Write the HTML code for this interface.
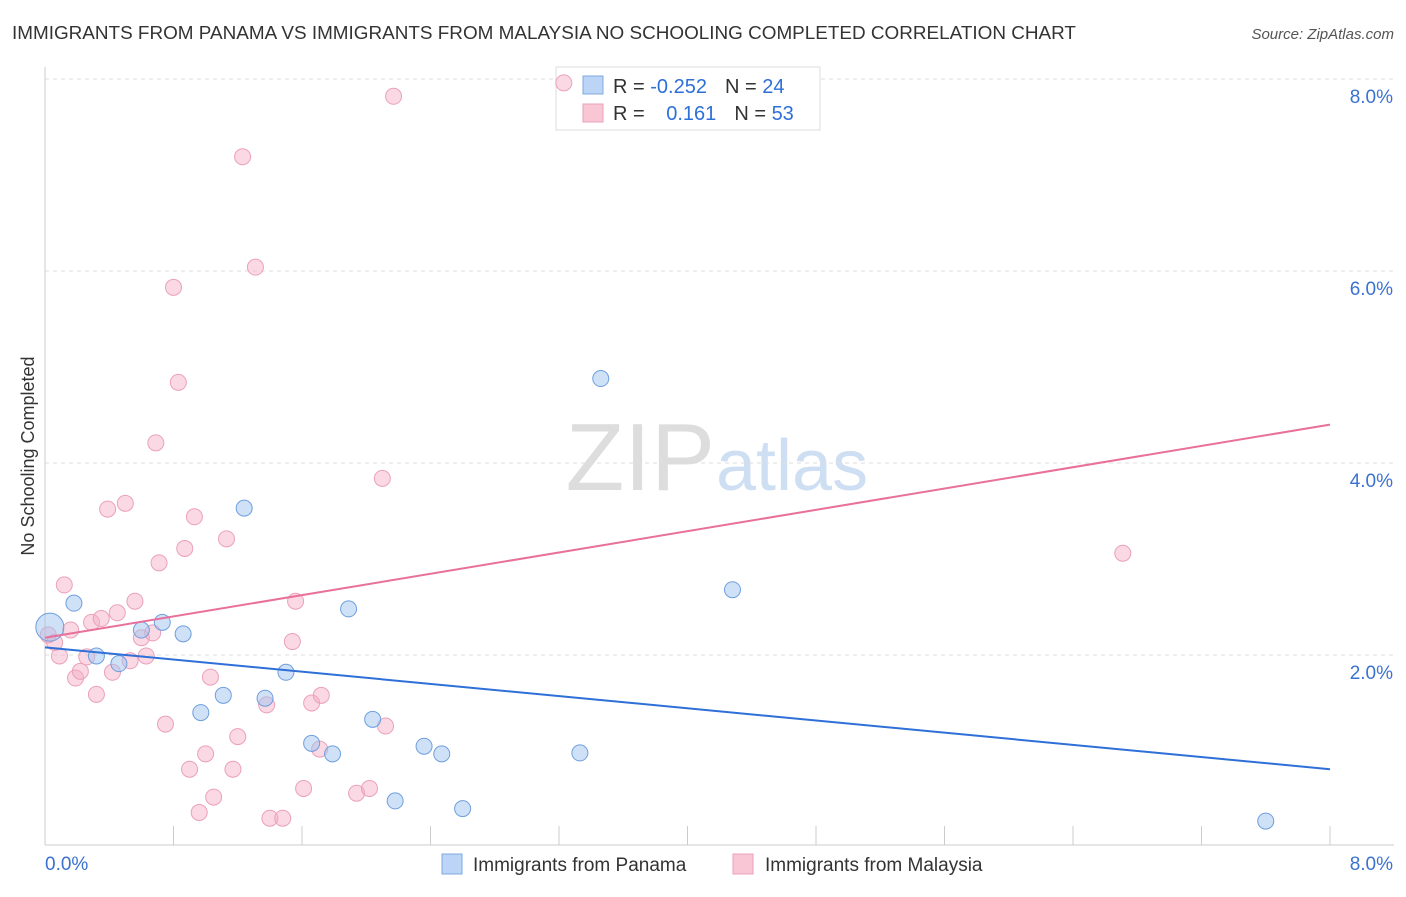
<!DOCTYPE html>
<html><head><meta charset="utf-8"><style>
body{margin:0;background:#fff;font-family:"Liberation Sans",sans-serif;}
svg text{font-family:"Liberation Sans",sans-serif;}
</style></head><body>
<svg width="1406" height="892" viewBox="0 0 1406 892" id="chart">
<text x="12" y="39" font-size="18.9" fill="#333">IMMIGRANTS FROM PANAMA VS IMMIGRANTS FROM MALAYSIA NO SCHOOLING COMPLETED CORRELATION CHART</text>
<text x="1394" y="39" font-size="15" fill="#555" font-style="italic" text-anchor="end">Source: ZipAtlas.com</text>
<text x="715" y="490" font-size="96" fill="#ddd" font-family="Liberation Serif" text-anchor="end">ZIP</text>
<text x="716" y="490" font-size="72" fill="#cfdff3">atlas</text>
<text transform="translate(34,456) rotate(-90)" font-size="18" fill="#333" text-anchor="middle">No Schooling Completed</text>
<g id="grid"></g><g id="axes"></g>
<g>
<rect x="556" y="67" width="264" height="63" fill="#fff" stroke="#ddd"/>
<rect x="583" y="76" width="20" height="18" fill="#bcd4f5" stroke="#7fa8e0"/>
<rect x="583" y="104" width="20" height="18" fill="#f9c6d6" stroke="#e9a0b8"/>
<text x="613" y="93" font-size="20" fill="#333">R = <tspan fill="#2e6fd8">-0.252</tspan><tspan dx="18">N = </tspan><tspan fill="#2e6fd8">24</tspan></text>
<text x="613" y="120" font-size="20" fill="#333">R = <tspan dx="16" fill="#2e6fd8">0.161</tspan><tspan dx="18">N = </tspan><tspan fill="#2e6fd8">53</tspan></text>
</g>
<g id="marks"></g>
<g>
<rect x="442" y="854" width="20" height="20" fill="#bcd4f5" stroke="#7fa8e0"/>
<text x="473" y="871" font-size="19" fill="#333">Immigrants from Panama</text>
<rect x="733" y="854" width="20" height="20" fill="#f9c6d6" stroke="#e9a0b8"/>
<text x="765" y="871" font-size="19" fill="#333">Immigrants from Malaysia</text>
</g>
</svg>
<script>
const yTicks=[2,4,6,8];
const yTickLabels=["2.0%","4.0%","6.0%","8.0%"];
const xEndLabels=["0.0%","8.0%"];
const panamaX=[0.03,0.18,0.32,0.46,0.60,0.73,0.86,0.97,1.11,1.24,1.37,1.50,1.66,1.79,1.89,2.04,2.18,2.36,2.47,2.60,3.33,3.46,4.28,7.60];
const panamaY=[2.29,2.54,1.99,1.91,2.26,2.34,2.22,1.40,1.58,3.53,1.55,1.82,1.08,0.97,2.48,1.33,0.48,1.05,0.97,0.40,0.98,4.88,2.68,0.27];
const malaysiaX=[0.02,0.06,0.09,0.12,0.16,0.19,0.22,0.26,0.29,0.32,0.35,0.39,0.42,0.45,0.50,0.53,0.56,0.60,0.63,0.67,0.69,0.71,0.75,0.80,0.83,0.87,0.90,0.93,0.96,1.00,1.03,1.05,1.13,1.17,1.20,1.23,1.31,1.38,1.40,1.48,1.54,1.56,1.61,1.66,1.71,1.72,1.94,2.02,2.10,2.12,2.17,3.23,6.71];
const malaysiaY=[2.21,2.13,1.99,2.73,2.26,1.76,1.83,1.98,2.34,1.59,2.38,3.52,1.82,2.44,3.58,1.94,2.56,2.18,1.99,2.23,4.21,2.96,1.28,5.83,4.84,3.11,0.81,3.44,0.36,0.97,1.77,0.52,3.21,0.81,1.15,7.19,6.04,1.48,0.30,0.30,2.14,2.56,0.61,1.50,1.02,1.58,0.56,0.61,3.84,1.26,7.82,7.96,3.06];
const panamaTrend=[2.08,0.81];
const malaysiaTrend=[2.18,4.40];
const NS="http://www.w3.org/2000/svg";
const X=v=>45+v/8*1285, Y=v=>847-v*96;
function mk(t,a,p){const e=document.createElementNS(NS,t);for(const k in a)e.setAttribute(k,a[k]);p.appendChild(e);return e;}
const grid=document.getElementById('grid'),axes=document.getElementById('axes'),marks=document.getElementById('marks');
yTicks.forEach((t,i)=>{
 const l=mk('line',{x1:45,x2:1394,y1:Y(t),y2:Y(t),stroke:'#ddd','stroke-dasharray':'4,4'},grid);
 
 
 const tx=mk('text',{x:1393,y:Y(t)+24,'font-size':19,fill:'#3b72d0','text-anchor':'end'},axes);
 tx.textContent=yTickLabels[i];
 
 
});
let a=mk('line',{x1:45,x2:45,y1:67,y2:845,stroke:'#ccc'},axes);


a=mk('line',{x1:45,x2:1394,y1:845,y2:845,stroke:'#ccc'},axes);


for(let i=0;i<=10;i++){const t=mk('line',{x1:X(i*0.8),x2:X(i*0.8),y1:826,y2:845,stroke:'#ccc'},axes);
 
 }
[[0,'start',45],[8,'end',1393]].forEach((d,i)=>{const t=mk('text',{x:d[2],y:870,'font-size':19,fill:'#3b72d0','text-anchor':d[1]},axes);t.textContent=xEndLabels[i];
 
 });
malaysiaX.forEach((x,i)=>{const c=mk('circle',{cx:X(x),cy:Y(malaysiaY[i]),r:8,fill:'rgba(245,170,195,0.45)',stroke:'#eba0ba','stroke-width':1},marks);
 
 });
panamaX.forEach((x,i)=>{const c=mk('circle',{cx:X(x),cy:Y(panamaY[i]),r:i==0?14:8,fill:'rgba(160,195,240,0.5)',stroke:'#6f9fdd','stroke-width':1},marks);
 
 });
let tl=mk('line',{x1:X(0),x2:X(8),y1:Y(panamaTrend[0]),y2:Y(panamaTrend[1]),stroke:'#2e6fd8','stroke-width':2},marks);


tl=mk('line',{x1:X(0),x2:X(8),y1:Y(malaysiaTrend[0]),y2:Y(malaysiaTrend[1]),stroke:'#e8709a','stroke-width':2},marks);


</script>
</body></html>
